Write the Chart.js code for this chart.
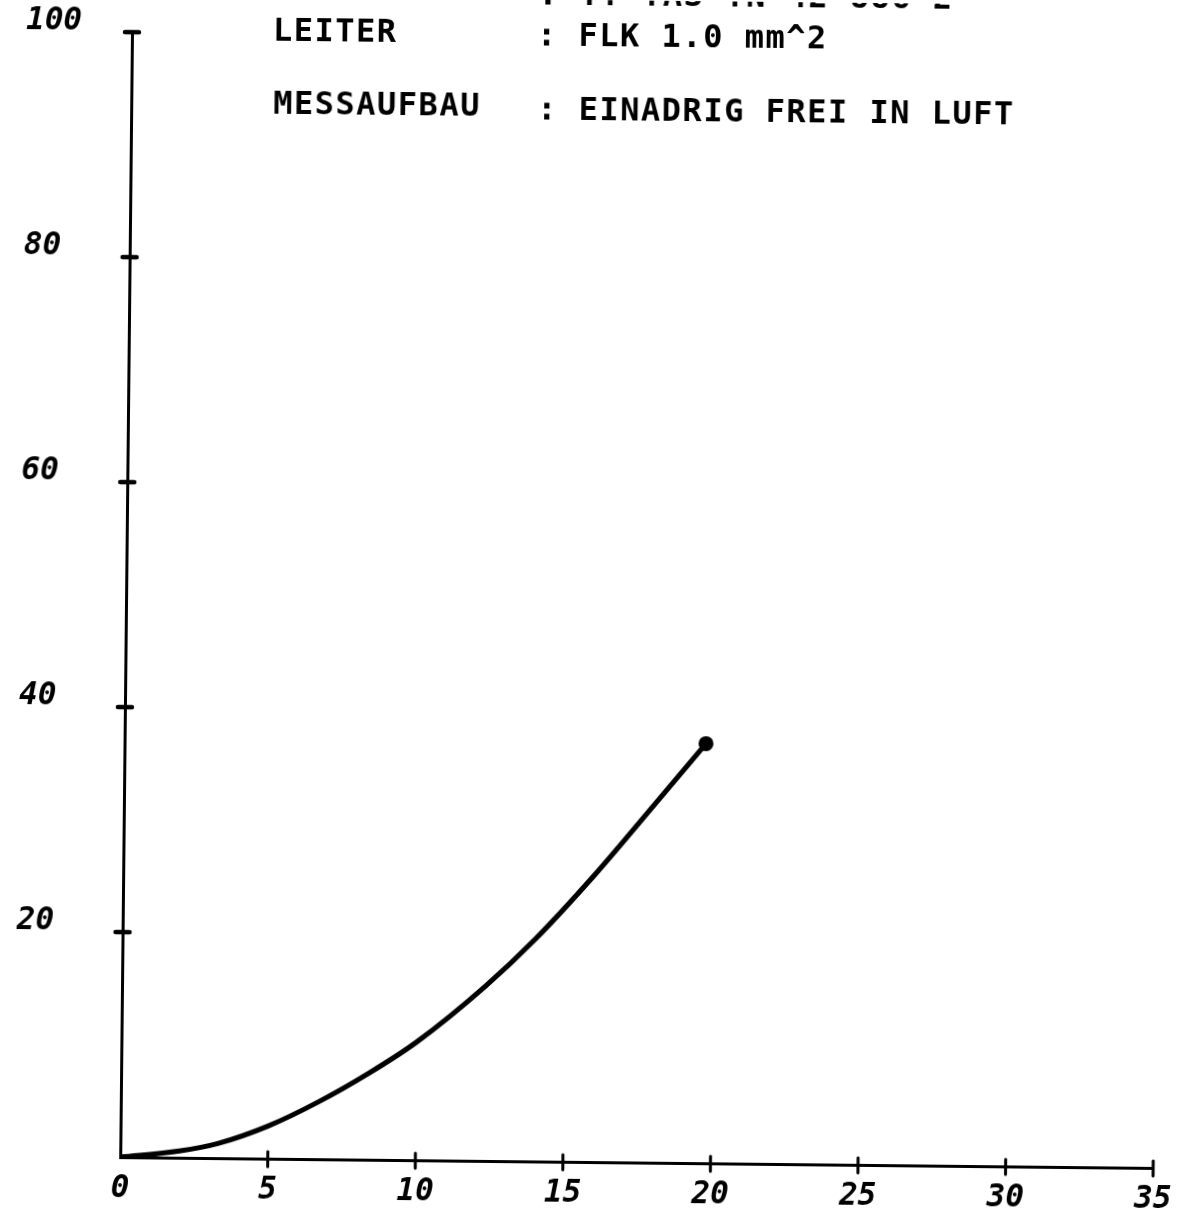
<!DOCTYPE html>
<html>
<head>
<meta charset="utf-8">
<script src="https://cdn.jsdelivr.net/npm/chart.js@4.4.1/dist/chart.umd.min.js"></script>
<style>
  html, body { margin: 0; padding: 0; background: #fff; overflow: hidden; }
  #wrap { width: 1179px; height: 1214px; position: relative; }
  #c { display: block; transform: rotate(0.6deg); transform-origin: 50% 50%; background: #fff; }
</style>
</head>
<body>
<div id="wrap"><canvas id="c" width="1179" height="1214"></canvas></div>
<script>
// ---- data ----
const xValues = [0, 2, 3.3, 5, 6.7, 8.4, 10, 12.3, 14, 16, 18, 19.7];
const yValues = [0, 0.6, 1.3, 2.9, 5.1, 7.7, 10.5, 15.5, 19.8, 25.6, 31.9, 37.3];
const xTickValues = [0, 5, 10, 15, 20, 25, 30, 35];
const yTickValues = [20, 40, 60, 80, 100];
const infoKeys = ['LEITER', 'MESSAUFBAU'];
const infoValues = [': FLK 1.0 mm^2', ': EINADRIG FREI IN LUFT'];
const clippedTopLine = ': YY TAS TN 42 886 2';

const points = xValues.map((x, i) => ({ x: x, y: yValues[i] }));
const lastIndex = points.length - 1;

const MONO = '"DejaVu Sans Mono", "Liberation Mono", monospace';

const tickMarks = {
  id: 'tickMarks',
  afterDraw(chart) {
    const ctx = chart.ctx;
    const xs = chart.scales.x, ys = chart.scales.y;
    const area = chart.chartArea;
    ctx.save();
    ctx.strokeStyle = '#000';
    ctx.lineCap = 'round';
    ctx.lineWidth = 4.5;
    yTickValues.forEach(v => {
      const py = ys.getPixelForValue(v);
      ctx.beginPath();
      ctx.moveTo(area.left - 7, py);
      ctx.lineTo(area.left + 7, py);
      ctx.stroke();
    });
    ctx.lineWidth = 3;
    xTickValues.slice(1).forEach(v => {
      const px = xs.getPixelForValue(v);
      ctx.beginPath();
      ctx.moveTo(px, area.bottom - 7);
      ctx.lineTo(px, area.bottom + 8);
      ctx.stroke();
    });
    // info text
    ctx.fillStyle = '#000';
    ctx.font = 'bold 32px ' + MONO;
    ctx.textBaseline = 'alphabetic';
    ctx.textAlign = 'left';
    try { ctx.letterSpacing = '1.5px'; } catch (e) {}
    ctx.fillText(clippedTopLine, 532, 5);
    ctx.fillText(infoKeys[0], 267, 44);
    ctx.fillText(infoValues[0], 531, 46);
    ctx.fillText(infoKeys[1], 268, 117);
    ctx.fillText(infoValues[1], 532, 120);
    ctx.restore();
  }
};

new Chart(document.getElementById('c'), {
  type: 'line',
  data: {
    datasets: [{
      data: points,
      borderColor: '#000',
      backgroundColor: '#000',
      borderWidth: 5,
      cubicInterpolationMode: 'monotone',
      pointRadius: ctx => ctx.dataIndex === lastIndex ? 5 : 0,
      pointHoverRadius: 0,
      fill: false
    }]
  },
  options: {
    responsive: false,
    animation: false,
    devicePixelRatio: 1,
    layout: { padding: { top: 37, right: 20, left: 20, bottom: 0 } },
    plugins: { legend: { display: false }, tooltip: { enabled: false } },
    scales: {
      x: {
        type: 'linear',
        min: 0, max: 35,
        afterBuildTicks: s => { s.ticks = xTickValues.map(v => ({ value: v })); },
        afterFit: s => { s.height = 52; s.paddingRight = 0; s.paddingLeft = 0; },
        grid: { display: false, drawTicks: false },
        border: { display: true, color: '#000', width: 3 },
        ticks: {
          color: '#000',
          padding: 13,
          maxRotation: 0,
          autoSkip: false,
          font: { family: MONO, size: 31, weight: 'bold', style: 'italic' }
        }
      },
      y: {
        type: 'linear',
        min: 0, max: 100,
        afterBuildTicks: s => { s.ticks = yTickValues.map(v => ({ value: v })); },
        afterFit: s => { s.width = 106; s.paddingTop = 0; s.paddingBottom = 0; },
        grid: { display: false, drawTicks: false },
        border: { display: true, color: '#000', width: 3 },
        ticks: {
          color: '#000',
          crossAlign: 'far',
          labelOffset: -10,
          autoSkip: false,
          font: { family: MONO, size: 31, weight: 'bold', style: 'italic' }
        }
      }
    }
  },
  plugins: [tickMarks]
});
</script>
</body>
</html>
